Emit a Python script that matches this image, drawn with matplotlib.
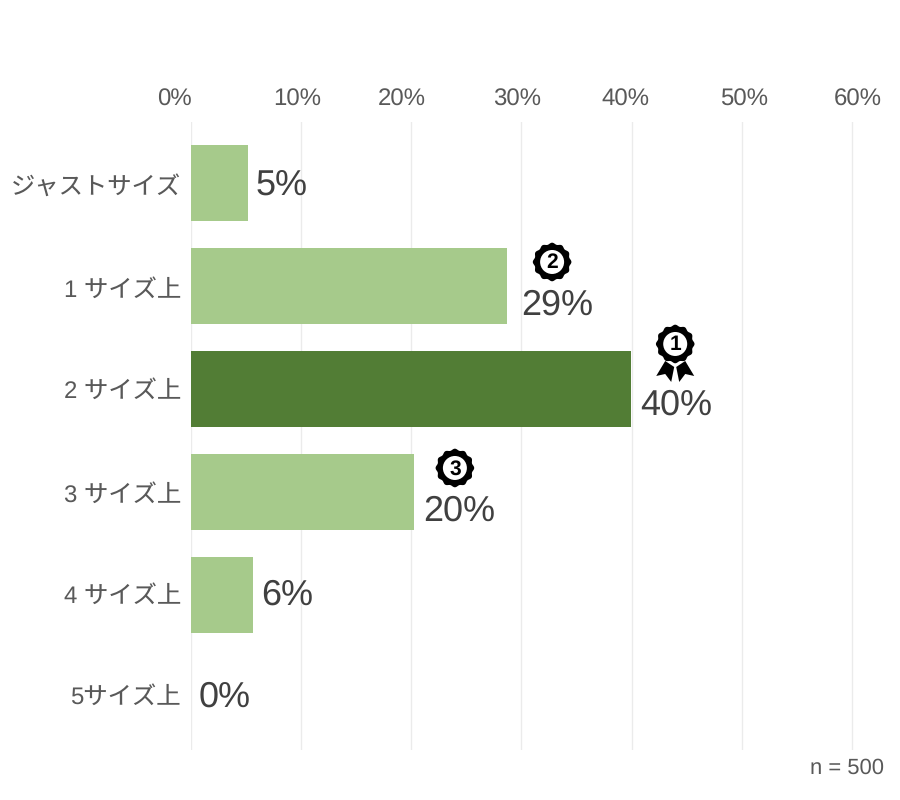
import numpy as np
import matplotlib
matplotlib.use('Agg')
import matplotlib.pyplot as plt
from matplotlib.patches import Polygon, Circle
from matplotlib.transforms import Affine2D, ScaledTranslation

plt.rcParams['font.family'] = ['Liberation Sans', 'Noto Sans CJK JP']
plt.rcParams['text.hinting'] = 'none'
plt.rcParams['text.hinting_factor'] = 1

categories = ['ジャストサイズ', '1 サイズ上', '2 サイズ上', '3 サイズ上', '4 サイズ上', '5サイズ上']
values = [5.2, 28.7, 39.95, 20.25, 5.7, 0]
value_labels = ['5%', '29%', '40%', '20%', '6%', '0%']
bar_colors = ['#A6CA8B', '#A6CA8B', '#527D35', '#A6CA8B', '#A6CA8B', '#A6CA8B']
xticks = [0, 10, 20, 30, 40, 50, 60]
xtick_labels = ['0%', '10%', '20%', '30%', '40%', '50%', '60%']
# the tick labels sit a bit off their gridlines in the original
xtick_shift = [-16, -4, -9, -4, -6, 2, 5]
# same for the category labels, pixels downward
ytick_shift = [2, 2, 0, 1, -1, -3]
# pixel offsets of the value labels from the bar end
label_dx = [8, 14, 9, 9, 8, 8]
label_dy = [3, 19, 16, 19, 0, -1]
# rank badges: bar index, rank, offset from bar end in pixels
badge_bar = [2, 1, 3]
badge_rank = ['1', '2', '3']
badge_dx = [44, 45, 41]
badge_dy = [-45, -24, -24]

W, H = 900, 800
fig = plt.figure(figsize=(9, 8), dpi=100)
ax = fig.add_axes([190.5 / W, 1 - 750 / H, 663 / W, 628 / H])

y = np.arange(len(categories))
ax.barh(y, values, height=76 / 103, color=bar_colors, zorder=2)
ax.set_xlim(0, 60.1)
ax.set_ylim(5.505, -0.592)

for s in ax.spines.values():
    s.set_visible(False)
ax.grid(axis='x', color='#EBEBEB', lw=1, zorder=0)
ax.set_axisbelow(True)
ax.xaxis.tick_top()
ax.set_xticks(xticks)
ax.set_xticklabels(xtick_labels, fontsize=17, color='#595959')
ax.set_yticks(y)
ax.set_yticklabels(categories, fontsize=17.5, color='#595959')
ax.tick_params(axis='x', length=0, pad=8)
ax.tick_params(axis='y', length=0, pad=7)

for lab, dx in zip(ax.get_xticklabels(), xtick_shift):
    lab.set_transform(lab.get_transform() + Affine2D().translate(dx, 0))
for lab, dy in zip(ax.get_yticklabels(), ytick_shift):
    lab.set_transform(lab.get_transform() + Affine2D().translate(0, -dy))

for i in range(len(values)):
    ax.annotate(value_labels[i], (values[i], y[i]), xytext=(label_dx[i], -label_dy[i]),
                textcoords='offset pixels', fontsize=26, color='#404040',
                ha='left', va='center', zorder=5)


def scallop(r, bumps=12, amp=0.8, n=240):
    t = np.linspace(0, 2 * np.pi, n, endpoint=False)
    rr = r + amp * np.cos(bumps * t)
    return np.column_stack([rr * np.sin(t), rr * np.cos(t)])


for b, rank, dx, dy in zip(badge_bar, badge_rank, badge_dx, badge_dy):
    # pixel space, y up, origin at the badge centre
    tr = Affine2D().translate(dx, -dy) + ScaledTranslation(values[b], y[b], ax.transData)
    ax.add_patch(Polygon(scallop(18.5), color='black', lw=0, transform=tr, zorder=6, clip_on=False))
    ax.add_patch(Circle((0, 0), 12, color='white', lw=0, transform=tr, zorder=7, clip_on=False))
    ax.annotate(rank, (values[b], y[b]), xytext=(dx, -dy - 1), textcoords='offset pixels',
                fontsize=15, fontweight='bold', color='black', ha='center', va='center', zorder=8)
    if rank == '1':
        # ribbon tails under the first place badge
        left = np.array([[-10, -17], [-19, -32], [-10, -30], [-4, -38], [-1, -23]])
        right = left * [-1, 1]
        ax.add_patch(Polygon(left, color='black', lw=0, transform=tr, zorder=5, clip_on=False))
        ax.add_patch(Polygon(right, color='black', lw=0, transform=tr, zorder=5, clip_on=False))

fig.text(884 / W, 1 - 768 / H, 'n = 500', fontsize=15.5, color='#595959', ha='right', va='center')

fig.savefig('out.png', dpi=100, facecolor='white')
